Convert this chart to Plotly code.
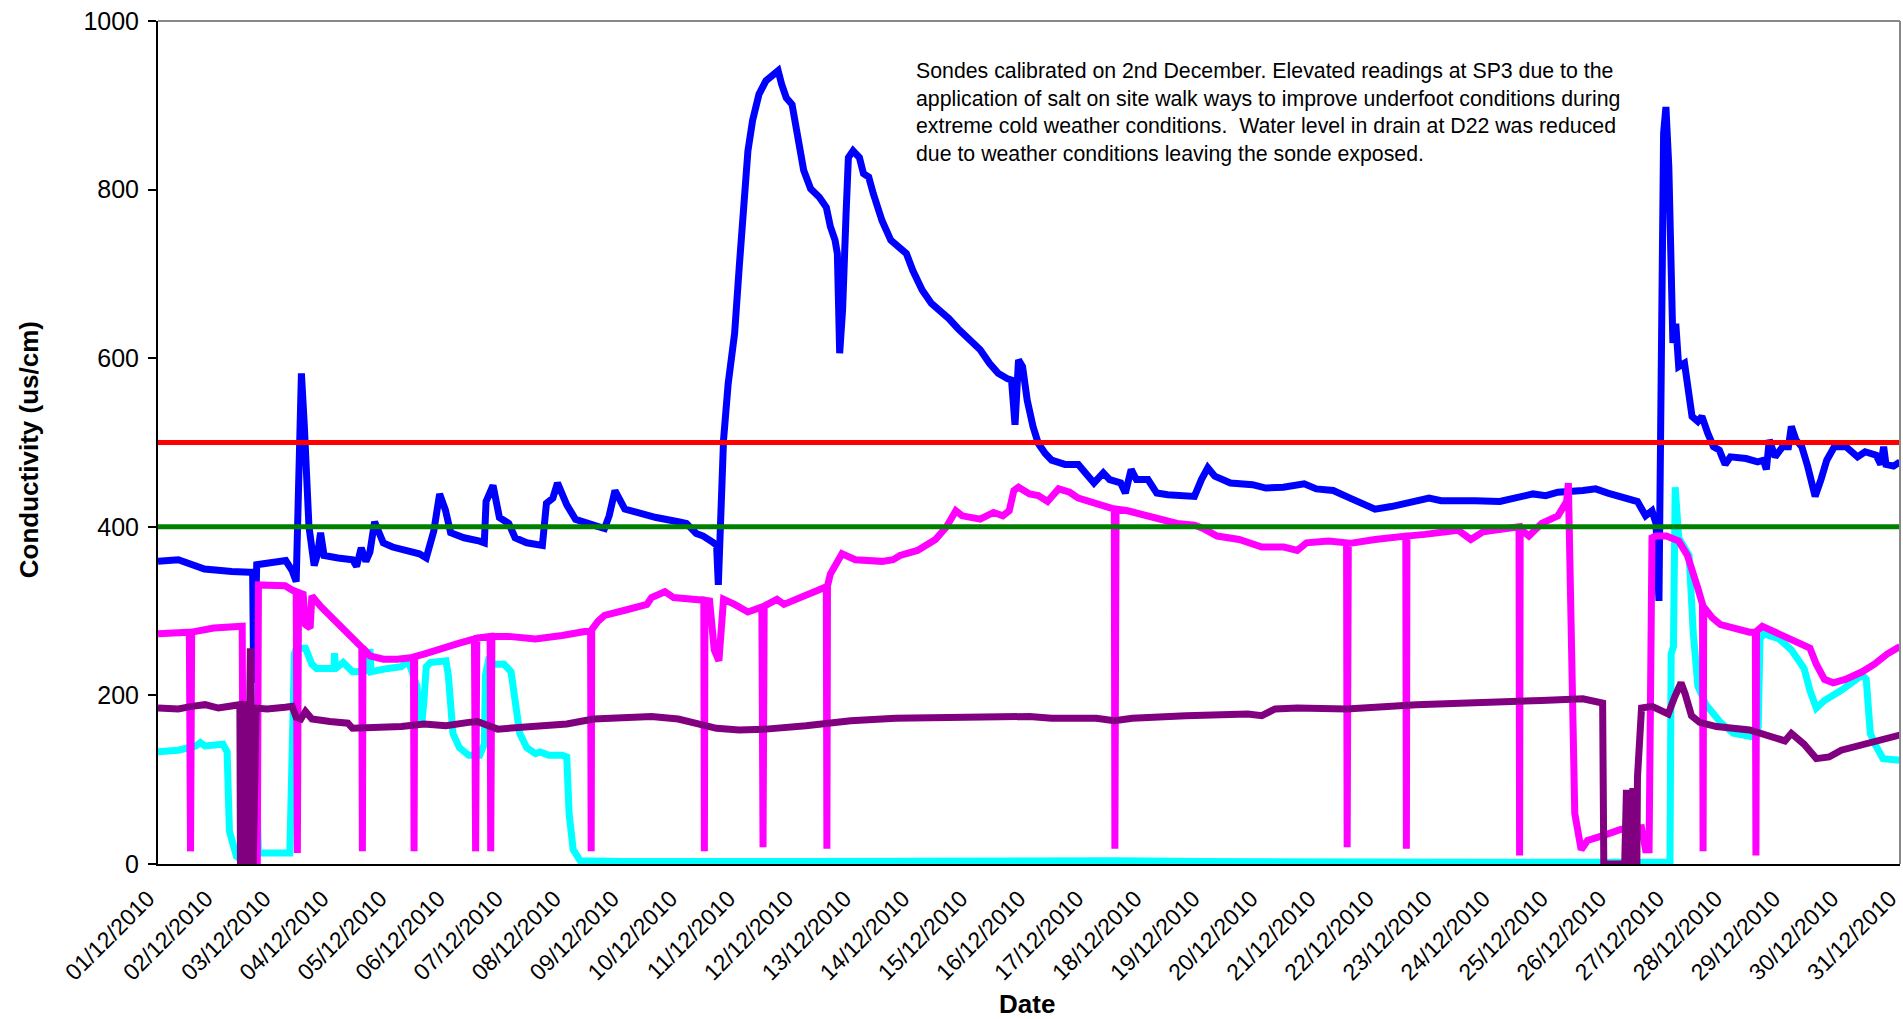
import pandas as pd
import plotly.graph_objects as go

START = pd.Timestamp("2010-12-01")
END = pd.Timestamp("2010-12-31")

# Readings: fractional day of December 2010 and conductivity (us/cm)
blue_day = [1.0, 1.35, 1.8, 2.0, 2.27, 2.58, 2.63, 2.65, 2.67, 2.7, 3.2, 3.31, 3.38, 3.42, 3.47,
            3.52, 3.6, 3.69, 3.75, 3.8, 3.86, 4.1, 4.35, 4.42, 4.5, 4.58, 4.65, 4.73, 4.88, 5.04,
            5.5, 5.62, 5.75, 5.85, 5.95, 6.04, 6.27, 6.54, 6.62, 6.65, 6.77, 6.88, 7.04, 7.15,
            7.35, 7.62, 7.69, 7.8, 7.88, 8.04, 8.19, 8.5, 8.69, 8.77, 8.87, 9.04, 9.35, 9.58,
            9.96, 10.1, 10.27, 10.39, 10.55, 10.62, 10.65, 10.7, 10.74, 10.82, 10.93, 11.01,
            11.08, 11.16, 11.24, 11.35, 11.47, 11.58, 11.68, 11.74, 11.82, 11.92, 12.01, 12.12,
            12.24, 12.39, 12.51, 12.58, 12.66, 12.7, 12.74, 12.79, 12.85, 12.89, 12.97, 13.08,
            13.15, 13.24, 13.32, 13.47, 13.62, 13.74, 13.89, 14.0, 14.16, 14.32, 14.51, 14.62,
            14.78, 14.93, 15.16, 15.32, 15.47, 15.62, 15.7, 15.76, 15.82, 15.89, 15.97, 16.07,
            16.16, 16.28, 16.39, 16.62, 16.85, 16.97, 17.12, 17.28, 17.39, 17.58, 17.66, 17.76,
            17.85, 18.05, 18.2, 18.39, 18.85, 18.97, 19.08, 19.2, 19.32, 19.47, 19.85, 20.08,
            20.38, 20.74, 20.95, 21.24, 21.53, 21.96, 22.24, 22.67, 22.89, 23.1, 23.39, 23.68,
            24.11, 24.4, 24.68, 24.9, 25.11, 25.54, 25.76, 25.97, 26.26, 26.48, 26.62, 26.73,
            26.8, 26.85, 26.93, 26.97, 27.02, 27.06, 27.09, 27.14, 27.19, 27.29, 27.36, 27.42,
            27.52, 27.59, 27.69, 27.79, 27.89, 27.99, 28.08, 28.35, 28.55, 28.65, 28.7, 28.75,
            28.85, 28.98, 29.08, 29.13, 29.21, 29.31, 29.41, 29.54, 29.64, 29.74, 29.87, 30.07,
            30.27, 30.4, 30.59, 30.67, 30.72, 30.76, 30.89, 31.0]
blue_val = [359, 361, 350, 348, 347, 346, 346, 200, 350, 355, 360, 348, 335, 420, 582,
            520, 400, 354, 368, 393, 366, 363, 361, 353, 375, 359, 370, 406, 381, 376,
            368, 363, 395, 439, 420, 393, 387, 383, 381, 430, 449, 411, 404, 387,
            381, 378, 428, 434, 452, 426, 409, 402, 398, 413, 443, 421, 415, 411,
            406, 404, 392, 389, 382, 378, 331, 430, 503, 570, 629, 708,
            767, 846, 882, 913, 929, 935, 941, 925, 909, 901, 866, 823,
            801, 791, 779, 756, 740, 724, 606, 657, 771, 838, 846, 838,
            819, 815, 795, 763, 740, 732, 724, 704, 681, 665, 655, 647,
            635, 625, 610, 594, 582, 576, 574, 521, 598, 590, 550, 519,
            499, 487, 479, 474, 474, 464, 452, 464, 456, 452, 440, 468,
            456, 456, 440, 438, 436, 456, 470, 460, 456, 452, 450, 446,
            447, 451, 445, 443, 434, 421, 424, 432, 434, 431, 430, 431,
            430, 434, 439, 437, 441, 443, 445, 440, 434, 430, 413, 419,
            404, 312, 867, 898, 827, 630, 618, 641, 590, 594, 558, 531,
            525, 531, 511, 495, 491, 474, 483, 481, 477, 479, 468, 503,
            483, 495, 495, 519, 503, 495, 472, 436, 456, 479, 495, 495,
            483, 489, 485, 474, 495, 474, 472, 477]

magenta_day = [1.0, 1.3, 1.54, 1.56, 1.58, 1.96, 2.42, 2.45, 2.47, 2.71, 2.73, 3.19, 3.31, 3.38,
               3.4, 3.42, 3.5, 3.54, 3.62, 3.65, 3.81, 3.96, 4.12, 4.31, 4.42, 4.51, 4.52, 4.53,
               4.65, 4.88, 5.12, 5.4, 5.41, 5.42, 5.58, 5.88, 6.19, 6.45, 6.47, 6.49, 6.72, 6.73,
               6.75, 7.04, 7.5, 7.96, 8.27, 8.45, 8.46, 8.47, 8.58, 8.69, 9.04, 9.42, 9.5, 9.73,
               9.88, 10.24, 10.4, 10.41, 10.42, 10.5, 10.58, 10.66, 10.74, 10.93, 11.16, 11.4,
               11.42, 11.44, 11.66, 11.78, 12.08, 12.32, 12.51, 12.52, 12.53, 12.58, 12.7, 12.78,
               13.01, 13.47, 13.66, 13.78, 14.08, 14.39, 14.58, 14.74, 14.85, 15.16, 15.39, 15.55,
               15.66, 15.74, 15.82, 16.01, 16.16, 16.32, 16.51, 16.7, 16.85, 17.16, 17.47, 17.48,
               17.5, 17.7, 18.08, 18.55, 18.85, 19.0, 19.24, 19.62, 20.01, 20.39, 20.62, 20.78,
               21.16, 21.47, 21.48, 21.5, 21.96, 22.49, 22.5, 22.51, 22.82, 23.39, 23.61, 23.82,
               24.44, 24.45, 24.46, 24.61, 24.83, 25.11, 25.26, 25.29, 25.36, 25.4, 25.51, 25.62,
               25.9, 26.19, 26.55, 26.62, 26.68, 26.73, 26.8, 26.98, 27.19, 27.34, 27.52, 27.6,
               27.61, 27.62, 27.77, 27.91, 28.41, 28.51, 28.52, 28.53, 28.63, 28.84, 29.13, 29.45,
               29.56, 29.7, 29.85, 30.06, 30.35, 30.56, 30.78, 31.0]
magenta_val = [273, 274, 275, 15, 275, 280, 282, 282, 0, 0, 331, 330, 325, 323,
               13, 322, 320, 284, 280, 318, 305, 295, 284, 269, 262, 257, 15, 256,
               247, 243, 243, 245, 15, 246, 249, 256, 262, 267, 15, 268, 270, 15,
               270, 270, 267, 271, 275, 277, 15, 278, 288, 295, 301, 308, 316, 323,
               316, 314, 313, 15, 313, 312, 254, 241, 314, 308, 299, 305,
               20, 306, 314, 308, 316, 323, 329, 18, 330, 344, 361, 368,
               361, 359, 361, 366, 372, 385, 400, 419, 413, 409, 417, 413,
               419, 443, 447, 439, 437, 430, 445, 441, 434, 428, 421, 18,
               421, 419, 413, 404, 402, 398, 389, 385, 376, 376, 372, 381,
               383, 381, 20, 380, 385, 389, 18, 389, 391, 396, 385, 394,
               400, 10, 398, 389, 404, 413, 430, 452, 232, 60, 17, 28,
               34, 41, 43, 17, 17, 387, 389, 389, 383, 366, 327, 308,
               15, 305, 292, 284, 275, 275, 10, 276, 282, 275, 267, 256,
               237, 219, 215, 219, 228, 237, 249, 258]

cyan_day = [1.0, 1.35, 1.65, 1.73, 1.81, 2.12, 2.19, 2.23, 2.35, 2.46, 2.59, 2.65, 2.73, 3.27,
            3.35, 3.38, 3.54, 3.65, 3.73, 3.96, 4.03, 4.04, 4.06, 4.19, 4.35, 4.42, 4.63, 4.65,
            4.67, 4.96, 5.19, 5.31, 5.38, 5.46, 5.5, 5.54, 5.58, 5.62, 5.69, 5.88, 5.96, 6.0,
            6.04, 6.08, 6.19, 6.35, 6.54, 6.62, 6.64, 6.69, 6.81, 6.96, 7.08, 7.15, 7.23, 7.35,
            7.5, 7.58, 7.73, 7.96, 8.04, 8.08, 8.15, 8.27, 9.0, 12.0, 15.0, 16.5, 17.5, 19.0,
            21.0, 24.0, 27.04, 27.06, 27.1, 27.13, 27.19, 27.27, 27.37, 27.44, 27.52, 27.66,
            27.77, 27.91, 28.13, 28.41, 28.52, 28.56, 28.59, 28.66, 28.92, 29.13, 29.35, 29.45,
            29.56, 29.7, 29.99, 30.35, 30.42, 30.49, 30.57, 30.71, 31.0]
cyan_val = [133, 135, 140, 144, 140, 142, 133, 39, 9, 4, 6, 215, 13, 13,
            249, 256, 256, 237, 232, 232, 232, 250, 232, 239, 228, 228, 230, 255,
            228, 232, 234, 241, 228, 211, 172, 163, 194, 234, 239, 239, 241, 224,
            189, 155, 138, 129, 129, 142, 224, 241, 237, 237, 228, 198, 155, 138,
            131, 133, 129, 129, 127, 60, 17, 4, 3, 3, 4, 5, 4, 3,
            2, 2, 2, 249, 258, 447, 387, 378, 366, 275, 211, 189,
            181, 168, 155, 150, 150, 163, 267, 273, 267, 254, 232, 206,
            185, 194, 206, 224, 219, 155, 142, 125, 123]

purple_day = [1.0, 1.35, 1.58, 1.81, 2.04, 2.27, 2.38, 2.41, 2.42, 2.48, 2.52, 2.55, 2.59, 2.64,
              2.69, 2.88, 3.19, 3.31, 3.38, 3.46, 3.54, 3.65, 3.96, 4.27, 4.35, 4.81, 5.19, 5.58,
              5.96, 6.35, 6.5, 6.85, 7.12, 7.5, 8.04, 8.5, 9.04, 9.5, 9.96, 10.27, 10.62, 11.01,
              11.47, 12.16, 12.93, 13.7, 14.85, 16.01, 16.39, 17.16, 17.47, 17.78, 18.7, 19.77,
              20.01, 20.24, 20.62, 21.47, 22.67, 23.39, 24.11, 24.83, 25.54, 25.88, 25.9, 26.19,
              26.26, 26.29, 26.32, 26.37, 26.4, 26.43, 26.47, 26.48, 26.55, 26.73, 26.91, 27.01,
              27.12, 27.23, 27.3, 27.41, 27.55, 27.84, 28.41, 28.84, 29.02, 29.13, 29.35, 29.56,
              29.78, 29.99, 30.35, 30.64, 31.0]
purple_val = [185, 184, 187, 189, 185, 188, 189, 189, 0, 0, 193, 0, 256, 0,
              185, 184, 186, 187, 174, 172, 181, 172, 169, 167, 161, 161, 163, 166,
              164, 168, 169, 160, 161, 163, 166, 172, 174, 175, 172, 166, 161, 159,
              160, 164, 170, 173, 175, 175, 173, 173, 170, 173, 176, 178,
              176, 184, 185, 184, 189, 190, 191, 194, 196, 191, 0, 0,
              0, 88, 0, 0, 90, 0, 0, 103, 185, 187, 181, 178,
              198, 215, 202, 176, 168, 163, 159, 150, 146, 155, 142, 125,
              127, 135, 142, 148, 153]

# Trigger levels
upper_limit = 500
lower_limit = 400

y_ticks = [0, 200, 400, 600, 800, 1000]
x_ticks = pd.date_range("2010-12-01", "2010-12-31", freq="D")
note_lines = [
    "Sondes calibrated on 2nd December. Elevated readings at SP3 due to the",
    "application of salt on site walk ways to improve underfoot conditions during",
    "extreme cold weather conditions.  Water level in drain at D22 was reduced",
    "due to weather conditions leaving the sonde exposed.",
]


def to_time(days):
    return [START + pd.Timedelta(days=d - 1) for d in days]


FONT = "Liberation Sans, Arial, sans-serif"

fig = go.Figure()
series = [
    (blue_day, blue_val, "#0000FF"),
    (cyan_day, cyan_val, "#00FFFF"),
    (magenta_day, magenta_val, "#FF00FF"),
    (purple_day, purple_val, "#800080"),
]
for days, vals, colour in series:
    fig.add_trace(go.Scatter(x=to_time(days), y=vals, mode="lines",
                             line=dict(color=colour, width=7), showlegend=False))

for level, colour in [(upper_limit, "#FF0000"), (lower_limit, "#008000")]:
    fig.add_trace(go.Scatter(x=[START, END], y=[level, level], mode="lines",
                             line=dict(color=colour, width=5), showlegend=False))

fig.update_layout(
    width=1903, height=1019,
    margin=dict(l=158, r=3, t=21, b=155),
    paper_bgcolor="white", plot_bgcolor="white",
    font=dict(family=FONT, color="black"),
    xaxis=dict(
        type="date", range=[START, END + pd.Timedelta(minutes=2)], automargin=False,
        tickvals=list(x_ticks), ticktext=[d.strftime("%d/%m/%Y") for d in x_ticks],
        tickangle=-45, tickfont=dict(size=23), ticklabelstandoff=10, ticklabelshift=-10,
        ticklabeloverflow="allow",
        showgrid=False, zeroline=False, showline=True, linecolor="black", linewidth=2,
        ticks="",
    ),
    yaxis=dict(
        range=[0, 1000], tickvals=y_ticks, tickfont=dict(size=25), automargin=False,
        showgrid=False, zeroline=False, showline=True, linecolor="black", linewidth=2,
        ticks="outside", ticklen=8, tickwidth=2, tickcolor="black", ticklabelstandoff=4,
    ),
    shapes=[
        dict(type="line", xref="paper", yref="paper", x0=0, x1=1, y0=1, y1=1,
             line=dict(color="#888888", width=2)),
        dict(type="line", xref="paper", yref="paper", x0=1, x1=1, y0=0, y1=1,
             line=dict(color="#888888", width=2)),
    ],
    annotations=[
        dict(text="<br>".join(note_lines), xref="paper", yref="paper", x=0.434, y=0.891,
             xanchor="left", yanchor="middle", align="left", showarrow=False,
             font=dict(size=21.3, family=FONT)),
        dict(text="<b>Conductivity (us/cm)</b>", xref="paper", yref="paper", x=-0.074, y=0.491,
             xanchor="center", yanchor="middle", textangle=-90, showarrow=False,
             font=dict(size=26, family=FONT)),
        dict(text="<b>Date</b>", xref="paper", yref="paper", x=0.499, y=-0.166,
             xanchor="center", yanchor="middle", showarrow=False,
             font=dict(size=26, family=FONT)),
    ],
)

fig.write_html("out.html")
